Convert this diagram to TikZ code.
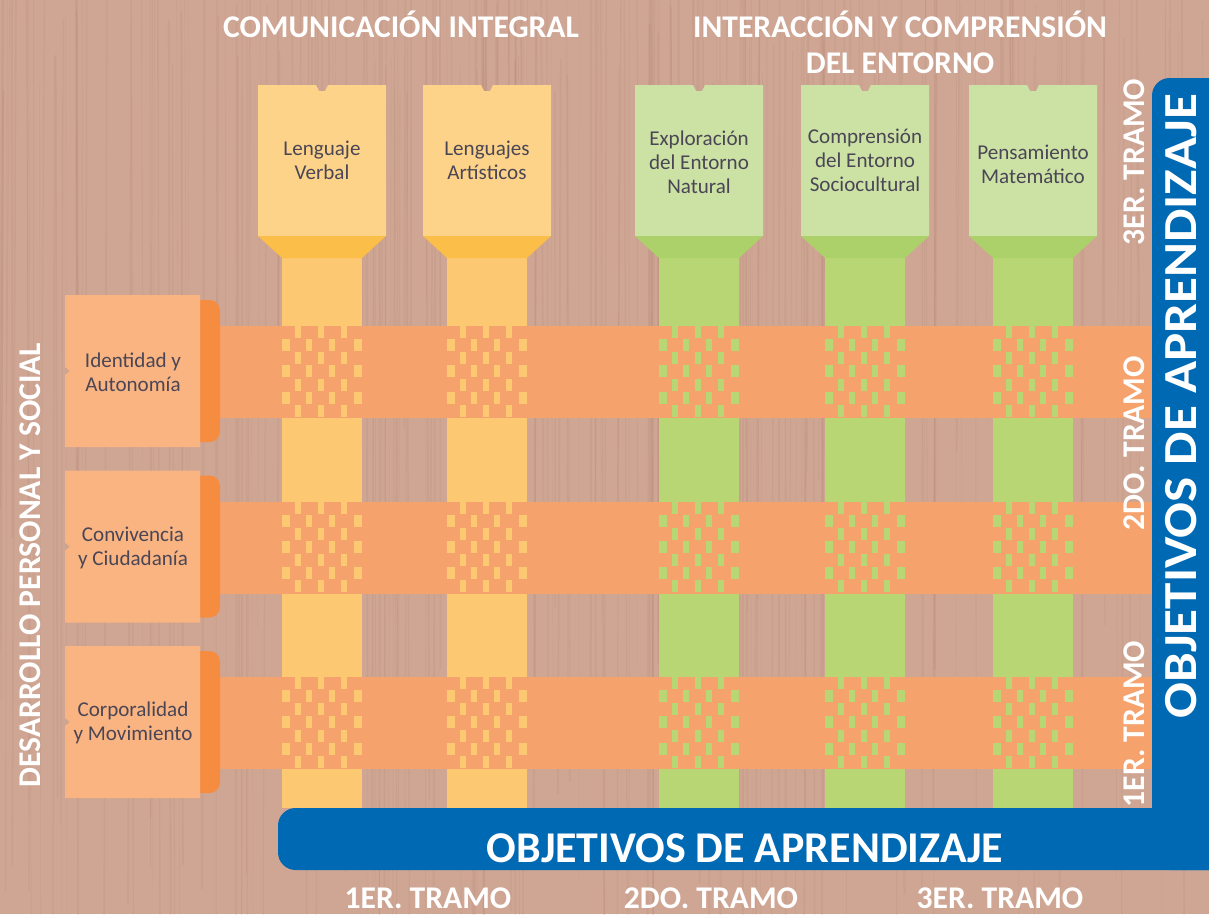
\documentclass[tikz,border=0pt]{standalone}
\usepackage{fontspec}
\setmainfont{Carlito}
\usetikzlibrary{calc}

\definecolor{wood}{RGB}{207,166,148}
\definecolor{woodline}{RGB}{165,115,98}
\definecolor{yelcard}{RGB}{253,211,138}
\definecolor{yelband}{RGB}{251,190,72}
\definecolor{yelstem}{RGB}{253,200,114}
\definecolor{grncard}{RGB}{204,226,165}
\definecolor{grnband}{RGB}{172,208,106}
\definecolor{grnstem}{RGB}{184,215,116}
\definecolor{orgcard}{RGB}{249,180,130}
\definecolor{orgside}{RGB}{245,140,64}
\definecolor{orgband}{RGB}{246,162,109}
\definecolor{objblue}{RGB}{0,105,180}
\definecolor{cardtext}{RGB}{75,70,85}

\tikzset{
  heading/.style={text=white, font=\fontsize{18}{20.5}\selectfont\bfseries, align=center, inner sep=0pt},
  bigheading/.style={heading, font=\fontsize{#1}{#1}\selectfont\bfseries},
  cardlabel/.style={text=cardtext, font=\fontsize{12}{13.7}\selectfont, align=center, inner sep=0pt},
}

\begin{document}
\begin{tikzpicture}[x=0.02cm, y=-0.02cm]
  \useasboundingbox (0,0) rectangle (1209,914);
  \fill [wood] (0,0) rectangle (1209,914);
  \pgfmathsetseed{11}
  \foreach \i in {1,...,260}
    \draw [woodline, opacity=0.12, line width={(0.2+rnd)*1pt}] ({rnd*1209},{rnd*300-200}) -- ++({rnd*8-4},{500+rnd*600});

  % columns
  \foreach \cx/\card/\band/\stem in {322/yelcard/yelband/yelstem, 487/yelcard/yelband/yelstem,
      699/grncard/grnband/grnstem, 865/grncard/grnband/grnstem, 1033/grncard/grnband/grnstem} {
    \fill [\stem] ({\cx-40},250) rectangle ({\cx+40},808);
    \fill [\card] ({\cx-64},85) -- ({\cx-6},85) -- ({\cx-3},91) -- ({\cx+3},91) -- ({\cx+6},85)
      -- ({\cx+64},85) -- ({\cx+64},236) -- ({\cx-64},236) -- cycle;
    \fill [\band] ({\cx-64},236) -- ({\cx+64},236) -- ({\cx+40},258) -- ({\cx-40},258) -- cycle;
  }

  % rows
  \foreach \ty in {295,470.5,646} {
    \fill [orgband] (200,{\ty+31}) rectangle (1152,{\ty+123});
    \fill [orgside, rounded corners=6] (185,{\ty+5}) rectangle (220,{\ty+147});
    \fill [orgcard] (65,\ty) -- (200,\ty) -- (200,{\ty+152}) -- (65,{\ty+152}) -- (65,{\ty+80})
      -- (70,{\ty+76}) -- (65,{\ty+72}) -- cycle;
  }

  % weave
  \foreach \cx/\stem in {322/yelstem, 487/yelstem, 699/grnstem, 865/grnstem, 1033/grnstem}
    \foreach \ty in {326,501.5,677} {
      \foreach \r in {0,2,4,6}
        \foreach \dx in {13,36,59}
          \fill [\stem] ({\cx-40+\dx},{\ty+\r*13.14}) rectangle +(6,12);
      \foreach \r in {1,3,5}
        \foreach \dx/\w in {0/8,24/6,47/6,72/8}
          \fill [\stem] ({\cx-40+\dx},{\ty+\r*13.14}) rectangle +(\w,12);
    }

  \node (lv) at (322,160) [cardlabel] {Lenguaje\\Verbal};
  \node (la) at (487,160) [cardlabel] {Lenguajes\\Artísticos};
  \node (en) at (699,162) [cardlabel] {Exploración\\del Entorno\\Natural};
  \node (es) at (865,160) [cardlabel] {Comprensión\\del Entorno\\Sociocultural};
  \node (pm) at (1033,164) [cardlabel] {Pensamiento\\Matemático};
  \node (ia) at (133,372) [cardlabel] {Identidad y\\Autonomía};
  \node (cc) at (133,548) [cardlabel] {Convivencia\\y Ciudadanía};
  \node (cm) at (133,723) [cardlabel] {Corporalidad\\y Movimiento};

  % tramos (right)
  \node (r3) at (1134,162) [heading, rotate=90] {3ER. TRAMO};
  \node (r2) at (1134,443) [heading, rotate=90] {2DO. TRAMO};
  \node (r1) at (1134,724) [heading, rotate=90] {1ER. TRAMO};

  % objetivos
  \fill [objblue, rounded corners=10] (1152,870) -- (1152,78) -- (1240,78) -- (1240,870) -- cycle;
  \fill [objblue, rounded corners=10] (278,808) rectangle (1240,870);
  \node (objv) at (1181,406) [bigheading=27, rotate=90] {\scalebox{1.12}[1]{OBJETIVOS DE APRENDIZAJE}};
  \node (objh) at (745,848) [bigheading=25] {OBJETIVOS DE APRENDIZAJE};

  \node (b1) at (428,898) [heading] {1ER. TRAMO};
  \node (b2) at (711,898) [heading] {2DO. TRAMO};
  \node (b3) at (1000,898) [heading] {3ER. TRAMO};

  \node (ci) at (401,24) [heading] {COMUNICACIÓN INTEGRAL};
  \node (ice) at (900,42) [heading] {INTERACCIÓN Y COMPRENSIÓN\\DEL ENTORNO};
  \node (dps) at (30,565) [heading, rotate=90] {DESARROLLO PERSONAL Y SOCIAL};
\end{tikzpicture}
\end{document}
